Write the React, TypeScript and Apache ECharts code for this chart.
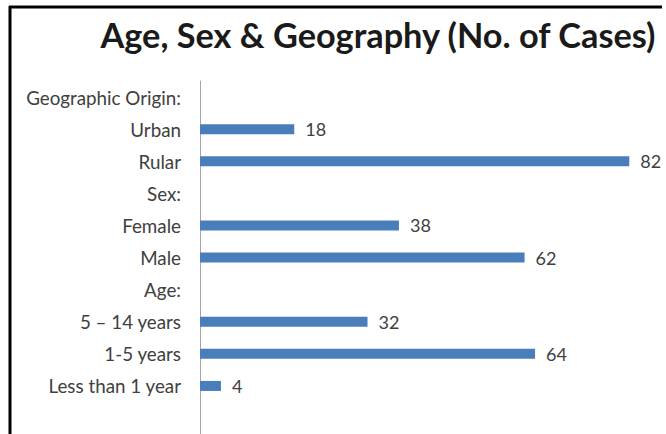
import React, { useEffect, useRef } from "react";
import * as echarts from "echarts";

const categories = [
  "Geographic Origin:",
  "Urban",
  "Rular",
  "Sex:",
  "Female",
  "Male",
  "Age:",
  "5 – 14 years",
  "1-5 years",
  "Less than 1 year",
];
const values: (number | null)[] = [null, 18, 82, null, 38, 62, null, 32, 64, 4];
const titleText = "Age, Sex & Geography (No. of Cases)";

export default function App() {
  const ref = useRef<HTMLDivElement>(null);
  useEffect(() => {
    if (!ref.current) return;
    const chart = echarts.init(ref.current, null, { renderer: "svg" });
    chart.setOption({
      animation: false,
      backgroundColor: "#ffffff",
      title: {
        text: titleText,
        left: 373,
        textAlign: "center",
        top: 12,
        textStyle: {
          fontFamily: "Lato",
          fontSize: 34.3,
          fontWeight: "bold",
          color: "#1a1a1a",
        },
      },
      grid: { left: 200, top: 81, width: 445, height: 321, containLabel: false },
      xAxis: {
        type: "value",
        min: 0,
        max: 85,
        show: false,
      },
      yAxis: {
        type: "category",
        inverse: true,
        data: categories,
        axisLine: { show: true, lineStyle: { color: "#a6a6a6", width: 1 } },
        axisTick: { show: false },
        axisLabel: {
          margin: 19,
          fontFamily: "Lato",
          fontSize: 18.8,
          color: "#404040",
        },
        splitLine: { show: false },
      },
      series: [
        {
          type: "bar",
          data: values,
          barWidth: 10,
          itemStyle: { color: "#4A7EBB" },
          label: {
            show: true,
            position: "right",
            distance: 11,
            fontFamily: "Lato",
            fontSize: 18,
            color: "#404040",
          },
        },
      ],
      graphic: [
        {
          type: "line",
          shape: { x1: 200.5, y1: 402, x2: 200.5, y2: 434 },
          style: { stroke: "#a6a6a6", lineWidth: 1 },
        },
        {
          type: "line",
          shape: { x1: 9, y1: 7, x2: 662, y2: 7 },
          style: { stroke: "#000000", lineWidth: 3 },
        },
        {
          type: "line",
          shape: { x1: 10, y1: 6, x2: 10, y2: 434 },
          style: { stroke: "#000000", lineWidth: 3 },
        },
      ],
    });
    return () => chart.dispose();
  }, []);
  return (
    <div
      ref={ref}
      style={{ position: "fixed", left: 0, top: 0, width: 666, height: 434 }}
    />
  );
}
